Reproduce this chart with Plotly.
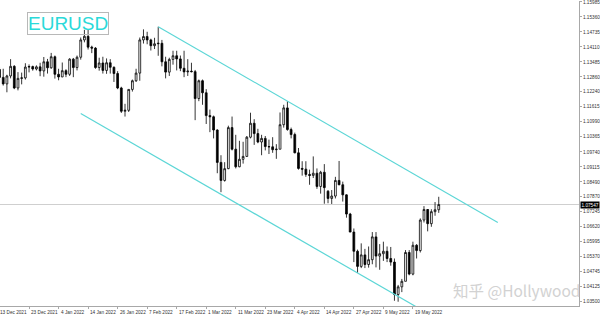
import plotly.graph_objects as go

# ---- data -------------------------------------------------------------
label_bars = [0, 8, 16, 24, 32, 40, 48, 56, 64, 72, 80, 88, 96, 104, 112]
label_text = ["13 Dec 2021", "23 Dec 2021", "4 Jan 2022", "14 Jan 2022", "26 Jan 2022",
              "7 Feb 2022", "17 Feb 2022", "1 Mar 2022", "11 Mar 2022", "23 Mar 2022",
              "4 Apr 2022", "14 Apr 2022", "27 Apr 2022", "9 May 2022", "19 May 2022"]

price_ticks = [1.15985, 1.15360, 1.14735, 1.14110, 1.13485, 1.12860, 1.12240, 1.11615,
               1.10990, 1.10365, 1.09740, 1.09115, 1.08490, 1.07870, 1.07245, 1.06620,
               1.05995, 1.05370, 1.04745, 1.04125, 1.03500]

opens = [1.1317, 1.1284, 1.1257, 1.1290, 1.1330, 1.1240, 1.1280, 1.1282, 1.1327, 1.1329,
         1.1319, 1.1328, 1.1311, 1.1349, 1.1324, 1.1370, 1.1297, 1.1286, 1.1312, 1.1297,
         1.1360, 1.1325, 1.1368, 1.1440, 1.1455, 1.1410, 1.1406, 1.1325, 1.1344, 1.1313,
         1.1345, 1.1326, 1.1300, 1.1240, 1.1143, 1.1147, 1.1234, 1.1270, 1.1302, 1.1440,
         1.1454, 1.1440, 1.1416, 1.1424, 1.1426, 1.1349, 1.1306, 1.1359, 1.1374, 1.1361,
         1.1322, 1.1307, 1.1310, 1.1308, 1.1196, 1.1270, 1.1220, 1.1125, 1.1120, 1.1065,
         1.0930, 1.0855, 1.0904, 1.1075, 1.0985, 1.0912, 1.0943, 1.0955, 1.1035, 1.1093,
         1.1050, 1.1015, 1.1030, 1.0996, 1.0995, 1.0983, 1.0985, 1.1087, 1.1157, 1.1067,
         1.1046, 1.0970, 1.0905, 1.0902, 1.0880, 1.0876, 1.0885, 1.0830, 1.0889, 1.0810,
         1.0780, 1.0790, 1.0855, 1.0837, 1.0795, 1.0715, 1.0640, 1.0560, 1.0497, 1.0545,
         1.0505, 1.0525, 1.0620, 1.0540, 1.0550, 1.0560, 1.0530, 1.0515, 1.0380, 1.0412,
         1.0435, 1.0555, 1.0465, 1.0585, 1.0563, 1.0690, 1.0734, 1.0675, 1.0725, 1.0733]
highs = [1.1327, 1.1320, 1.1295, 1.1360, 1.1335, 1.1306, 1.1304, 1.1343, 1.1338, 1.1333,
         1.1334, 1.1345, 1.1369, 1.1361, 1.1386, 1.1375, 1.1320, 1.1346, 1.1318, 1.1364,
         1.1365, 1.1375, 1.1450, 1.1482, 1.1483, 1.1416, 1.1410, 1.1366, 1.1370, 1.1363,
         1.1360, 1.1330, 1.1310, 1.1245, 1.1174, 1.1235, 1.1275, 1.1320, 1.1450, 1.1484,
         1.1474, 1.1445, 1.1449, 1.1495, 1.1440, 1.1370, 1.1366, 1.1395, 1.1395, 1.1375,
         1.1395, 1.1360, 1.1345, 1.1315, 1.1275, 1.1275, 1.1235, 1.1150, 1.1125, 1.1068,
         1.0960, 1.0931, 1.1083, 1.1121, 1.1045, 1.1020, 1.1016, 1.1040, 1.1137, 1.1110,
         1.1070, 1.1045, 1.1040, 1.1025, 1.1035, 1.1006, 1.1138, 1.1170, 1.1185, 1.1075,
         1.1054, 1.0990, 1.0935, 1.0935, 1.0900, 1.0955, 1.0905, 1.0895, 1.0923, 1.0815,
         1.0815, 1.0870, 1.0936, 1.0850, 1.0797, 1.0720, 1.0655, 1.0567, 1.0593, 1.0570,
         1.0580, 1.0640, 1.0640, 1.0590, 1.0600, 1.0580, 1.0578, 1.0530, 1.0420, 1.0445,
         1.0565, 1.0565, 1.0600, 1.0590, 1.0697, 1.0748, 1.0736, 1.0735, 1.0765, 1.0787]
lows = [1.1262, 1.1250, 1.1222, 1.1280, 1.1235, 1.1230, 1.1255, 1.1275, 1.1305, 1.1312,
        1.1313, 1.1289, 1.1287, 1.1300, 1.1320, 1.1279, 1.1272, 1.1285, 1.1285, 1.1290,
        1.1285, 1.1313, 1.1358, 1.1430, 1.1400, 1.1385, 1.1320, 1.1312, 1.1300, 1.1299,
        1.1300, 1.1265, 1.1235, 1.1136, 1.1121, 1.1140, 1.1225, 1.1265, 1.1270, 1.1425,
        1.1422, 1.1396, 1.1402, 1.1374, 1.1330, 1.1280, 1.1290, 1.1337, 1.1313, 1.1310,
        1.1285, 1.1290, 1.1305, 1.1106, 1.1185, 1.1170, 1.1090, 1.1056, 1.1030, 1.0885,
        1.0806, 1.0850, 1.0902, 1.0980, 1.0905, 1.0910, 1.0925, 1.0953, 1.1030, 1.1003,
        1.1010, 1.0960, 1.0980, 1.0965, 1.0970, 1.0945, 1.0985, 1.1075, 1.1062, 1.1030,
        1.0968, 1.0900, 1.0875, 1.0870, 1.0837, 1.0865, 1.0820, 1.0800, 1.0758, 1.0760,
        1.0757, 1.0780, 1.0835, 1.0767, 1.0700, 1.0640, 1.0515, 1.0470, 1.0490, 1.0490,
        1.0492, 1.0506, 1.0493, 1.0483, 1.0520, 1.0515, 1.0500, 1.0354, 1.0350, 1.0390,
        1.0435, 1.0460, 1.0460, 1.0530, 1.0555, 1.0680, 1.0643, 1.0662, 1.0708, 1.0720]
closes = [1.1284, 1.1257, 1.1290, 1.1330, 1.1240, 1.1280, 1.1282, 1.1327, 1.1329, 1.1319,
          1.1328, 1.1311, 1.1349, 1.1324, 1.1370, 1.1297, 1.1286, 1.1312, 1.1297, 1.1360,
          1.1325, 1.1368, 1.1440, 1.1455, 1.1410, 1.1406, 1.1325, 1.1344, 1.1313, 1.1345,
          1.1326, 1.1300, 1.1240, 1.1143, 1.1147, 1.1234, 1.1270, 1.1302, 1.1440, 1.1454,
          1.1440, 1.1416, 1.1424, 1.1426, 1.1349, 1.1306, 1.1359, 1.1374, 1.1361, 1.1322,
          1.1307, 1.1310, 1.1308, 1.1196, 1.1270, 1.1220, 1.1125, 1.1120, 1.1065, 1.0930,
          1.0855, 1.0904, 1.1075, 1.0985, 1.0912, 1.0943, 1.0955, 1.1035, 1.1093, 1.1050,
          1.1015, 1.1030, 1.0996, 1.0995, 1.0983, 1.0985, 1.1087, 1.1157, 1.1067, 1.1046,
          1.0970, 1.0905, 1.0902, 1.0880, 1.0876, 1.0885, 1.0830, 1.0889, 1.0825, 1.0780,
          1.0790, 1.0855, 1.0837, 1.0795, 1.0715, 1.0640, 1.0560, 1.0497, 1.0545, 1.0505,
          1.0525, 1.0620, 1.0540, 1.0550, 1.0560, 1.0530, 1.0515, 1.0380, 1.0412, 1.0435,
          1.0555, 1.0465, 1.0585, 1.0563, 1.0690, 1.0734, 1.0675, 1.0725, 1.0733, 1.07547]

current_price = 1.07547

upper_line_bars = [43, 135]
upper_line_prices = [1.1495, 1.0680]
lower_line_bars = [22, 113]
lower_line_prices = [1.1134, 1.0328]

symbol = "EURUSD"
watermark = "知乎 @Hollywood"

# ---- figure -----------------------------------------------------------
X_MIN, X_MAX = 0.13, 157.0
bars = list(range(len(closes)))
CH = "#5cd6d6"
AX = "#a8a8a8"
LBL = dict(family="Liberation Sans, Arial, sans-serif", size=4.7, color="#333333")

fig = go.Figure()
fig.add_trace(go.Candlestick(
    x=bars, open=opens, high=highs, low=lows, close=closes,
    increasing=dict(line=dict(color="black", width=0.8), fillcolor="white"),
    decreasing=dict(line=dict(color="black", width=0.8), fillcolor="black"),
    whiskerwidth=0, showlegend=False, hoverinfo="skip"))
fig.add_trace(go.Scatter(x=upper_line_bars, y=upper_line_prices, mode="lines",
                         line=dict(color=CH, width=1.2), showlegend=False, hoverinfo="skip"))
fig.add_trace(go.Scatter(x=lower_line_bars, y=lower_line_prices, mode="lines",
                         line=dict(color=CH, width=1.2), showlegend=False, hoverinfo="skip"))

fig.add_shape(type="line", xref="paper", x0=0, x1=1, yref="y",
              y0=current_price, y1=current_price, line=dict(color="#cfcfcf", width=1),
              layer="below")

annotations = []
for b, t in zip(label_bars, label_text):
    annotations.append(dict(x=max(b, X_MIN + 0.01), y=0, xref="x", yref="paper", text=t,
                            showarrow=False, xanchor="left", yanchor="top", yshift=-2,
                            xshift=-2 if b < X_MIN else 0, font=LBL))
annotations.append(dict(x=1, y=current_price, xref="paper", yref="y",
                        text="1.07547", showarrow=False, xanchor="left", yanchor="middle",
                        xshift=1, bgcolor="black", borderpad=0.5,
                        font=dict(family=LBL["family"], size=4.7, color="white")))
annotations.append(dict(x=68 / 582, y=1 - 23 / 306, xref="paper", yref="paper",
                        text=symbol, showarrow=False, xanchor="center", yanchor="middle",
                        bordercolor="#b8b8b8", borderwidth=1, borderpad=0,
                        font=dict(family="Liberation Sans, Arial, sans-serif", size=19,
                                  color="#2ad9d9")))
annotations.append(dict(x=1, y=1 - 290 / 306, xref="paper", yref="paper",
                        text=watermark, showarrow=False, xanchor="right", yanchor="middle",
                        xshift=3,
                        font=dict(family="Noto Sans CJK SC, sans-serif", size=15.5,
                                  color="#d2d2d2")))

fig.update_layout(
    width=600, height=316,
    margin=dict(l=0, r=18, t=0, b=10),
    paper_bgcolor="white", plot_bgcolor="white",
    showlegend=False,
    annotations=annotations,
    xaxis=dict(range=[X_MIN, X_MAX], showgrid=False, zeroline=False,
               showline=True, linecolor=AX, linewidth=1, mirror=False,
               tickvals=label_bars, ticks="outside", ticklen=2, tickcolor=AX,
               showticklabels=False, rangeslider=dict(visible=False), fixedrange=True),
    yaxis=dict(range=[1.03322, 1.16021], side="right", showgrid=False, zeroline=False,
               showline=True, linecolor=AX, linewidth=1,
               tickvals=price_ticks, ticktext=[f"{v:.5f}" for v in price_ticks],
               ticks="outside", ticklen=2, tickcolor=AX, tickfont=LBL,
               ticklabeloverflow="allow", fixedrange=True),
)

fig.write_html("out.html")
